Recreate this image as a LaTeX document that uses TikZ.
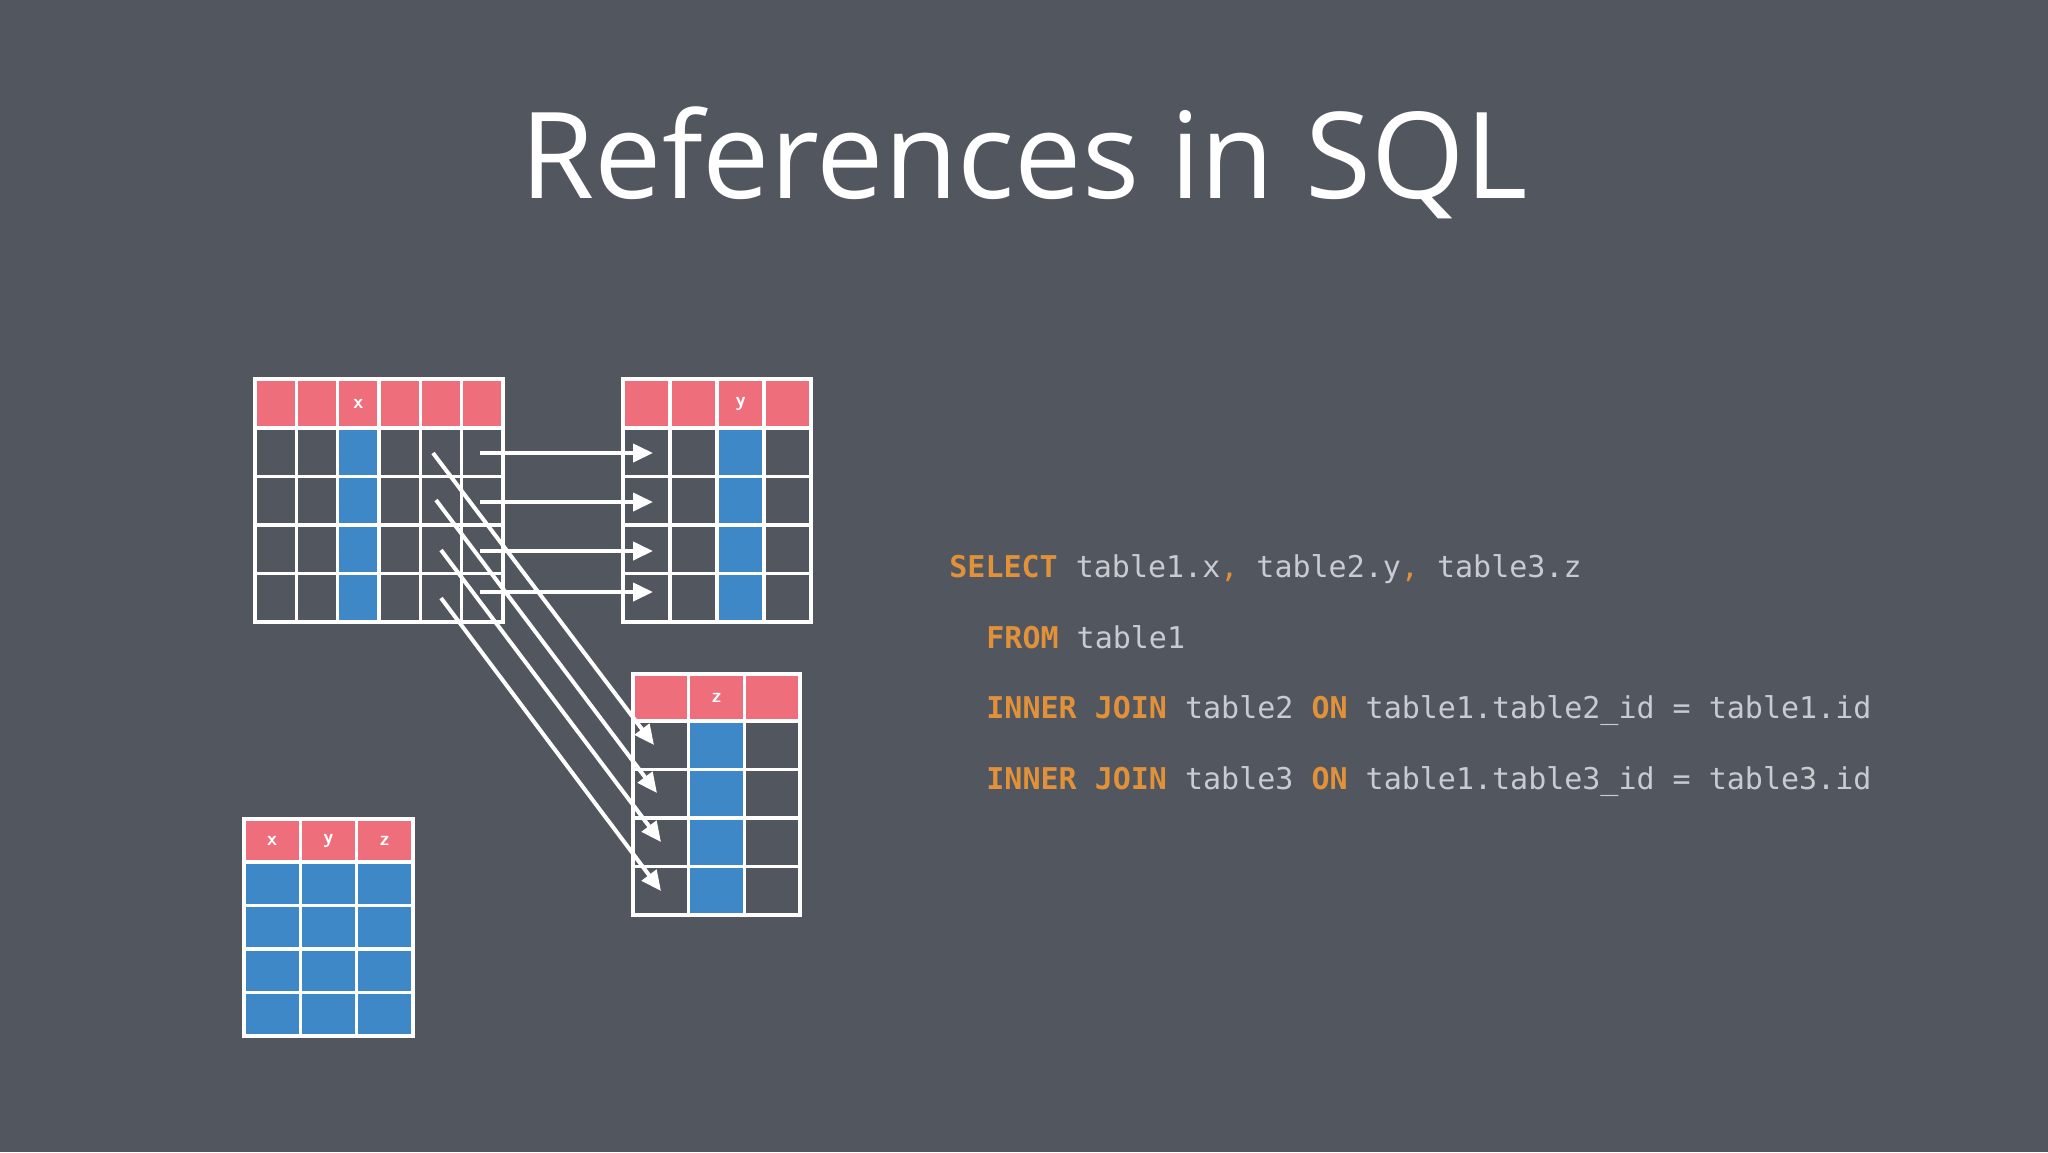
\documentclass[tikz,border=0pt]{standalone}
\usepackage{fontspec}
\setmainfont{Open Sans}
\setmonofont{DejaVu Sans Mono}
\usetikzlibrary{arrows.meta}
\definecolor{bg}{HTML}{52565E}
\definecolor{pinkc}{HTML}{EE6F7B}
\definecolor{bluec}{HTML}{3F88C8}
\definecolor{kw}{HTML}{E0913A}
\definecolor{codec}{HTML}{C8CBD0}
\tikzset{
  gridline/.style={white,line width=1.6pt},
  frame/.style={white,line width=2pt},
  hdr/.style={text=white,font=\sffamily\bfseries\fontsize{10}{10}\selectfont},
  link/.style={white,line width=2pt,-{Triangle[length=10pt,width=9pt]}},
  code/.style={anchor=base west,inner sep=0pt,text=codec,font=\ttfamily\fontsize{15}{15}\selectfont}
}
\newcommand{\kwd}[1]{\textcolor{kw}{\bfseries #1}}
% \drawtable{left}{top}{ncols}{colw}{hdrh}{rowh}{bluecols}{label col}{label}
\newcommand{\mytable}[9]{%
  \fill[pinkc] (#1,#2) rectangle ({#1+#3*#4},{#2+#5});
  \foreach \c in {#7}{\fill[bluec] ({#1+(\c-1)*#4},{#2+#5}) rectangle ({#1+\c*#4},{#2+#5+4*#6});}
  \foreach \c in {1,...,#3}{\draw[gridline] ({#1+\c*#4},#2) -- ({#1+\c*#4},{#2+#5+4*#6});}
  \foreach \r in {0,...,3}{\draw[gridline] (#1,{#2+#5+\r*#6}) -- ({#1+#3*#4},{#2+#5+\r*#6});}
  \draw[frame] (#1,#2) rectangle ({#1+#3*#4},{#2+#5+4*#6});
  \foreach \c/\t in {#8}{\node[hdr] at ({#1+(\c-0.5)*#4},{#2+#5/2}) {\t};}
}
\begin{document}
\begin{tikzpicture}[x=0.5pt,y=-0.5pt]
\fill[bg] (0,0) rectangle (2048,1152);
\useasboundingbox (0,0) rectangle (2048,1152);
\node[anchor=base,text=white,font=\fontsize{60}{60}\selectfont] (title) at (1024,198) {References in SQL};
\mytable{255}{379}{6}{41.33}{49}{48.5}{3}{3/x}{}
\mytable{623}{379}{4}{47}{49}{48.5}{3}{3/y}{}
\mytable{633}{674}{3}{55.7}{47}{48.5}{2}{2/z}{}
\mytable{244}{819}{3}{56.3}{43}{43.5}{1,2,3}{1/x,2/y,3/z}{}
% arrows
\foreach \i/\y in {1/453,2/502,3/551,4/592}{
  \coordinate (ha\i) at (480,\y); \coordinate (hb\i) at (653,\y);
  \draw[link] (ha\i) -- (hb\i);}
\foreach \i/\xa/\ya/\xb/\yb in {1/433/453/654/745,2/436/500/657/793,3/441/550/661/842,4/441/598/661/891}{
  \coordinate (da\i) at (\xa,\ya); \coordinate (db\i) at (\xb,\yb);
  \draw[link] (da\i) -- (db\i);}
% code
\node[code] (l1) at (949,577) {\kwd{SELECT} table1.x\textcolor{kw}{,} table2.y\textcolor{kw}{,} table3.z};
\node[code] (l2) at (986,648) {\kwd{FROM} table1};
\node[code] (l3) at (986,718) {\kwd{INNER JOIN} table2 \kwd{ON} table1.table2\_id = table1.id};
\node[code] (l4) at (986,789) {\kwd{INNER JOIN} table3 \kwd{ON} table1.table3\_id = table3.id};
\end{tikzpicture}
\end{document}
